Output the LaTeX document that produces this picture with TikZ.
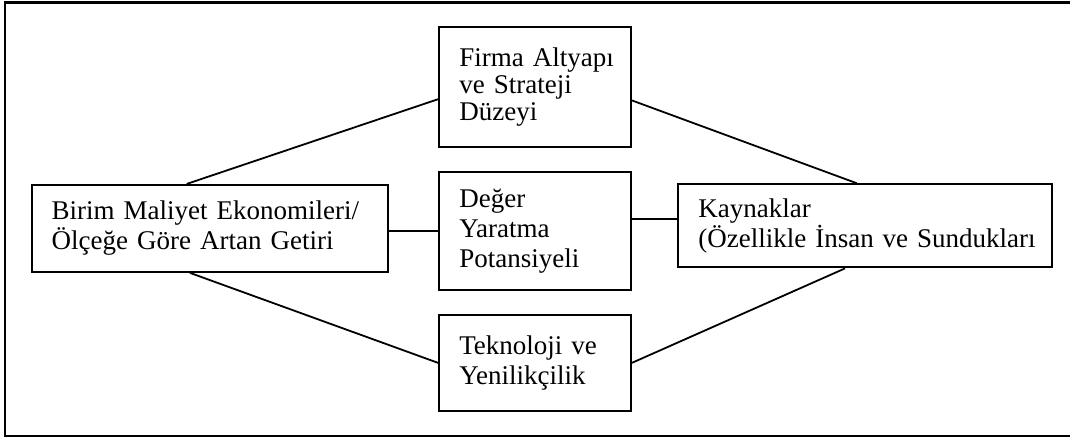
\documentclass[tikz,border=0pt]{standalone}
\usepackage{fontspec}
\setmainfont{Liberation Serif}
\usetikzlibrary{calc}

\begin{document}
\begin{tikzpicture}[x=0.5pt, y=-0.5pt, every node/.style={font=\fontsize{13.5}{15}\selectfont},
  kutu/.style={draw, line width=1.1pt, align=left, inner xsep=10pt, inner ysep=0pt},
  bag/.style={line width=0.9pt}]
 \useasboundingbox (0,0) rectangle (1070,439);
 \draw[line width=1.1pt] (5,2.5) rectangle (1076,436);
 \node[kutu, text width=158.3pt, minimum height=43.35pt] (birim) at (210,228.4) {\mbox{Birim Maliyet Ekonomileri/}\\\mbox{Ölçeğe Göre Artan Getiri}};
 \node[kutu, text width=75.7pt, minimum height=59.7pt, font=\fontsize{13.5}{13.4}\selectfont] (firma) at (535,87) {\mbox{Firma Altyapı}\\\mbox{ve Strateji}\\Düzeyi};
 \node[kutu, text width=75.7pt, minimum height=59.15pt] (deger) at (535,230.9) {Değer\\Yaratma\\Potansiyeli};
 \node[kutu, text width=75.7pt, minimum height=47.85pt] (tekno) at (535,362.9) {\mbox{Teknoloji ve}\\Yenilikçilik};
 \node[kutu, text width=167pt, minimum height=41.5pt] (kaynak) at (865.3,225.8) {Kaynaklar\\\mbox{(Özellikle İnsan ve Sundukları}};
 % baglantilar
 \draw[bag] ($(birim.north west)!0.435!(birim.north east)$) -- ($(firma.north west)!0.6!(firma.south west)$);
 \draw[bag] ($(firma.north east)!0.61!(firma.south east)$) -- ($(kaynak.north west)!0.477!(kaynak.north east)$);
 \draw[bag] (deger.west -| birim.east) -- (deger.west);
 \draw[bag] ($(deger.north east)!0.4!(deger.south east)$) coordinate (d1) -- (d1 -| kaynak.west);
 \draw[bag] ($(birim.south west)!0.444!(birim.south east)$) -- (tekno.west);
 \draw[bag] (tekno.east) -- ($(kaynak.south west)!0.446!(kaynak.south east)$);
\end{tikzpicture}
\end{document}
